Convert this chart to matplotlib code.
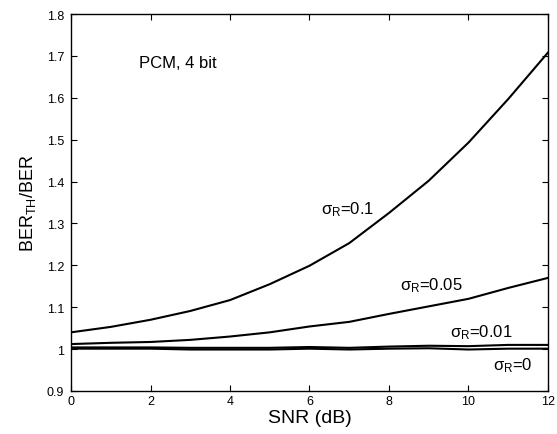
import matplotlib.pyplot as plt

plt.rcParams['font.family'] = ['Liberation Sans', 'DejaVu Sans']
plt.rcParams['mathtext.fontset'] = 'custom'
plt.rcParams['mathtext.rm'] = 'Liberation Sans'
plt.rcParams['mathtext.it'] = 'Liberation Sans:italic'

# Données
snr = [0, 1, 2, 3, 4, 5, 6, 7, 8, 9, 10, 11, 12]
ber_01 = [1.040, 1.053, 1.070, 1.091, 1.117, 1.155, 1.199, 1.253, 1.325, 1.402, 1.493, 1.597, 1.708]
ber_005 = [1.012, 1.015, 1.017, 1.022, 1.030, 1.040, 1.054, 1.065, 1.084, 1.102, 1.120, 1.146, 1.170]
ber_001 = [1.004, 1.004, 1.004, 1.003, 1.003, 1.003, 1.005, 1.003, 1.006, 1.008, 1.007, 1.010, 1.010]
ber_0 = [1.001, 1.001, 1.001, 0.999, 0.999, 0.999, 1.001, 0.999, 1.001, 1.002, 0.999, 1.001, 1.001]

y_ticks = [0.9, 1.0, 1.1, 1.2, 1.3, 1.4, 1.5, 1.6, 1.7, 1.8]
y_labels = ['0.9', '1', '1.1', '1.2', '1.3', '1.4', '1.5', '1.6', '1.7', '1.8']
x_ticks = [0, 2, 4, 6, 8, 10, 12]

fig = plt.figure(figsize=(5.57, 4.35), dpi=100)
ax = fig.add_axes([0.1275, 0.0989, 0.8563, 0.8666])

for serie in [ber_01, ber_005, ber_001, ber_0]:
    ax.plot(snr, serie, color='black', lw=1.5)

ax.set_xlim(0, 12)
ax.set_ylim(0.9, 1.8)
ax.set_xticks(x_ticks)
ax.set_yticks(y_ticks)
ax.set_yticklabels(y_labels)
ax.tick_params(direction='in', top=True, right=True, labelsize=9, length=4, width=0.8)
ax.tick_params(axis='y', pad=5)
ax.tick_params(axis='x', pad=3)
for s in ax.spines.values():
    s.set_linewidth(1.0)

ax.set_xlabel('SNR (dB)', fontsize=14, labelpad=1)
ax.set_ylabel(r'BER$_{\mathrm{TH}}$/BER', fontsize=13, labelpad=6)

ax.text(1.7, 1.685, 'PCM, 4 bit', fontsize=12, va='center')
ax.text(6.3, 1.335, r'σ$_{\mathrm{R}}$=0.1', fontsize=12, va='center')
ax.text(8.28, 1.155, r'σ$_{\mathrm{R}}$=0.05', fontsize=12, va='center')
ax.text(9.53, 1.041, r'σ$_{\mathrm{R}}$=0.01', fontsize=12, va='center')
ax.text(10.62, 0.964, r'σ$_{\mathrm{R}}$=0', fontsize=12, va='center')

fig.savefig('out.png', dpi=100)
